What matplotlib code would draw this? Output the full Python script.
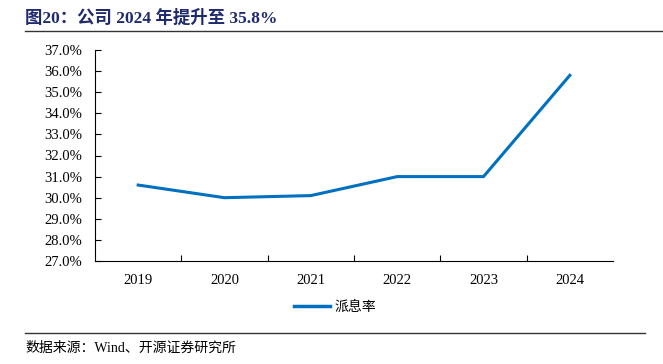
import matplotlib
matplotlib.use("Agg")
import matplotlib.pyplot as plt
from matplotlib.ticker import FuncFormatter, MultipleLocator
from matplotlib.lines import Line2D

# data
years = ["2019", "2020", "2021", "2022", "2023", "2024"]
payout = [30.6, 30.0, 30.1, 31.0, 31.0, 35.8]
series_name = "派息率"
title = "图20：公司 2024 年提升至 35.8%"
source = "数据来源：Wind、开源证券研究所"

fonts = ["Liberation Serif", "Noto Sans CJK SC"]
plt.rcParams["font.family"] = fonts

fig = plt.figure(figsize=(6.63, 3.64), dpi=100)
ax = fig.add_axes([95 / 663, 1 - 261 / 364, (613 - 95) / 663, (261 - 50) / 364])

x = list(range(len(years)))
ax.plot(x, payout, color="#0070C0", linewidth=2.2, solid_joinstyle="miter")

ax.set_xlim(-0.5, len(years) - 0.5)
ax.set_ylim(27, 37)
ax.yaxis.set_major_locator(MultipleLocator(1))
ax.yaxis.set_major_formatter(FuncFormatter(lambda v, p: f"{v:.1f}%"))
# ticks sit between the years, labels centred on them
ax.set_xticks([i + 0.5 for i in x[:-1]])
ax.set_xticklabels([])
ax.set_xticks(x, minor=True)
ax.set_xticklabels(years, minor=True)
ax.tick_params(axis="x", which="minor", length=0, pad=9, labelsize=10.5)
ax.tick_params(axis="x", which="major", direction="in", length=4, width=0.8)
ax.tick_params(axis="y", direction="in", length=4, width=0.8, labelsize=10.5, pad=9.5)

for s in ["top", "right"]:
    ax.spines[s].set_visible(False)
for s in ["left", "bottom"]:
    ax.spines[s].set_color("black")
    ax.spines[s].set_linewidth(0.8)

# legend under the plot
handle = Line2D([], [], color="#0070C0", linewidth=2.5)
fig.legend([handle], [series_name], loc="center", bbox_to_anchor=(0.505, 1 - 307 / 364),
           frameon=False, handlelength=2.6, handletextpad=0.3,
           prop={"family": ["Noto Sans CJK SC"], "size": 10})

# title, rules and source
fig.text(25 / 663, 1 - 18 / 364, title, fontsize=12.5, fontweight="bold",
         color="#1F2A6E", va="center", ha="left")
fig.add_artist(Line2D([25 / 663, 1.0], [1 - 30.5 / 364] * 2, color="#333333", linewidth=1.0))
fig.add_artist(Line2D([25 / 663, 645 / 663], [1 - 333 / 364] * 2, color="#333333", linewidth=1.0))
fig.text(25 / 663, 1 - 348 / 364, source, fontsize=10, color="black", va="center", ha="left")

fig.savefig("out.png", dpi=100)
